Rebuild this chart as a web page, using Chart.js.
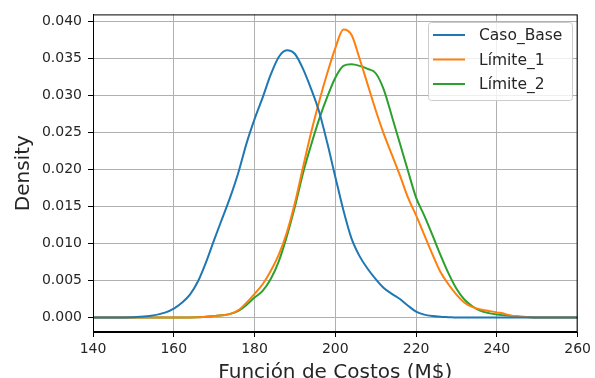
<!DOCTYPE html>
<html>
<head>
<meta charset="utf-8">
<script src="https://cdn.jsdelivr.net/npm/chart.js@4.4.0/dist/chart.umd.min.js"></script>
<style>
  html, body { margin: 0; padding: 0; background: #fff; }
</style>
</head>
<body>
<canvas id="kde" width="595" height="378"></canvas>
<script>
// x grid (M$) shared by the three density curves
const costos = [140, 145, 150, 154,
  158, 160, 162, 164, 166, 168, 170, 172, 174, 176, 178, 180,
  182, 184, 186, 188, 190, 192, 194, 196, 198, 200, 202, 204,
  206, 208, 210, 212, 214, 216, 218, 220, 222, 224, 226, 228,
  230, 232, 234, 236, 238, 240, 242, 244, 246,
  250, 255, 260];

const casoBase = [0, 0, 0.00005, 0.0002,
  0.0007, 0.0012, 0.0020, 0.0031, 0.0049, 0.0075, 0.0105, 0.0134, 0.0163, 0.0196, 0.0235, 0.0268,
  0.0297, 0.0328, 0.0352, 0.0361, 0.0356, 0.0336, 0.0309, 0.0278, 0.0236, 0.0190, 0.0145, 0.0107,
  0.0083, 0.0066, 0.0052, 0.0040, 0.0032, 0.0025, 0.0016, 0.0008, 0.0004, 0.0002, 0.0001, 0.00005,
  0, 0, 0, 0, 0, 0, 0, 0, 0,
  0, 0, 0];

const limite1 = [0, 0, 0, 0,
  0, 0, 0.00001, 0.00002, 0.00005, 0.0001, 0.0002, 0.0003, 0.0005, 0.0010, 0.0020, 0.0032,
  0.0045, 0.0063, 0.0085, 0.0115, 0.0155, 0.0203, 0.0250, 0.0292, 0.0330, 0.0364, 0.0389, 0.0382,
  0.0350, 0.0315, 0.0280, 0.0248, 0.0220, 0.0192, 0.0162, 0.0138, 0.0112, 0.0086, 0.0062, 0.0045,
  0.0031, 0.0020, 0.0014, 0.0011, 0.0009, 0.0007, 0.0005, 0.0002, 0.0001,
  0, 0, 0];

const limite2 = [0, 0, 0, 0,
  0, 0, 0.00001, 0.00002, 0.00005, 0.0001, 0.0002, 0.0003, 0.0005, 0.0009, 0.0017, 0.0027,
  0.0036, 0.0052, 0.0076, 0.0110, 0.0150, 0.0195, 0.0233, 0.0268, 0.0298, 0.0324, 0.0340, 0.0342,
  0.0340, 0.0336, 0.0330, 0.0308, 0.0272, 0.0235, 0.0198, 0.0162, 0.0138, 0.0112, 0.0085, 0.0060,
  0.0039, 0.0024, 0.0015, 0.0009, 0.0006, 0.0004, 0.0003, 0.0002, 0.0001,
  0, 0, 0];

const nombres = ['Caso_Base', 'Límite_1', 'Límite_2'];
const colores = ['#1f77b4', '#ff7f0e', '#2ca02c'];

const font = 'DejaVu Sans';
const ink = '#262626';

function puntos(ys) {
  return costos.map((x, i) => ({ x: x, y: ys[i] }));
}

// matplotlib-like frame + legend box in the upper right
const marco = {
  id: 'marco',
  afterDraw(chart) {
    const c = chart.ctx;
    const a = chart.chartArea;
    c.save();
    c.strokeStyle = '#000';
    c.lineWidth = 1;
    c.strokeRect(a.left + 0.5, a.top + 0.5, a.right - a.left - 1, a.bottom - a.top - 1);

    // legend
    const bx = 428, by = 22, bw = 144, bh = 78, r = 3;
    c.fillStyle = 'rgba(255,255,255,0.8)';
    c.strokeStyle = '#cccccc';
    c.beginPath();
    c.roundRect(bx + 0.5, by + 0.5, bw, bh, r);
    c.fill();
    c.stroke();
    c.font = '15.5px "' + font + '"';
    c.textBaseline = 'middle';
    c.textAlign = 'left';
    chart.data.datasets.forEach((ds, i) => {
      const y = by + 13 + i * 24.5;
      c.strokeStyle = ds.borderColor;
      c.lineWidth = 2;
      c.beginPath();
      c.moveTo(bx + 5, y);
      c.lineTo(bx + 37, y);
      c.stroke();
      c.fillStyle = ink;
      c.fillText(ds.label, bx + 51, y + 1);
    });
    c.restore();
  }
};

new Chart(document.getElementById('kde'), {
  type: 'line',
  data: {
    datasets: [
      { label: nombres[0], data: puntos(casoBase), borderColor: colores[0] },
      { label: nombres[1], data: puntos(limite1), borderColor: colores[1] },
      { label: nombres[2], data: puntos(limite2), borderColor: colores[2] },
    ]
  },
  options: {
    responsive: false,
    animation: false,
    parsing: false,
    layout: { padding: { left: 0, top: 14, right: 16, bottom: 0 } },
    elements: {
      point: { radius: 0 },
      line: { borderWidth: 2, cubicInterpolationMode: 'monotone', fill: false }
    },
    plugins: {
      legend: { display: false },
      tooltip: { enabled: false }
    },
    scales: {
      x: {
        type: 'linear',
        min: 140,
        max: 260,
        afterFit(s) { s.height = 46; },
        ticks: { stepSize: 20, color: ink, padding: 4, font: { family: font, size: 14 } },
        grid: { color: '#b0b0b0', tickColor: '#000', tickLength: 5 },
        border: { color: '#000' },
        title: {
          display: true,
          text: 'Función de Costos (M$)',
          color: ink,
          padding: { top: 0, bottom: -2 },
          font: { family: font, size: 20, lineHeight: 0.7 }
        }
      },
      y: {
        type: 'linear',
        min: -0.00195,
        max: 0.04095,
        afterFit(s) { s.width = 93; },
        ticks: {
          stepSize: 0.005,
          includeBounds: false,
          color: ink,
          padding: 6,
          font: { family: font, size: 14 },
          callback: v => v.toFixed(3)
        },
        grid: { color: '#b0b0b0', tickColor: '#000', tickLength: 5 },
        border: { color: '#000' },
        title: {
          display: true,
          text: 'Density',
          color: ink,
          padding: { top: 17, bottom: 0 },
          font: { family: font, size: 20, lineHeight: 0.7 }
        }
      }
    }
  },
  plugins: [marco]
});
</script>
</body>
</html>
